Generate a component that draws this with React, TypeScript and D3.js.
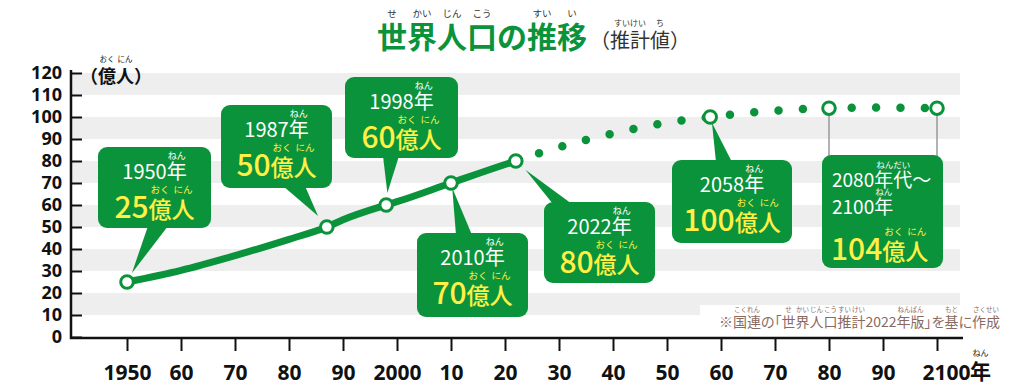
import { useEffect, useRef } from 'react';
import * as d3 from 'd3';

// population, 億人
const popYears = [1950, 1960, 1970, 1980, 1987, 1990, 1998, 2000, 2010, 2020, 2022];
const popValues = [25, 30.3, 37, 44.4, 50, 53.3, 60, 61.5, 70, 78.4, 80];
// projection (dotted)
const projYears = [2022, 2030, 2040, 2050, 2058, 2060, 2070, 2080, 2090, 2100];
const projValues = [80, 86.3, 92.5, 97.5, 100, 100.6, 102.9, 104, 104.3, 104];
// circles
const markerYears = [1950, 1987, 1998, 2010, 2022, 2058, 2080, 2100];
const markerValues = [25, 50, 60, 70, 80, 100, 104, 104];
// callouts
const calloutYears = [1950, 1987, 1998, 2010, 2022, 2058];
const calloutValues = [25, 50, 60, 70, 80, 100];
const lastRange = [2080, 2100];
const lastValue = 104;

const yTicks = [0, 10, 20, 30, 40, 50, 60, 70, 80, 90, 100, 110, 120];
const xTicks = [1950, 1960, 1970, 1980, 1990, 2000, 2010, 2020, 2030, 2040, 2050, 2060, 2070, 2080, 2090, 2100];

const titleSegs = [
  { t: '世', ruby: 'せ' }, { t: '界', ruby: 'かい' }, { t: '人', ruby: 'じん' },
  { t: '口', ruby: 'こう' }, { t: 'の' }, { t: '推', ruby: 'すい' }, { t: '移', ruby: 'い' },
];
const subSegs = [{ t: '（' }, { t: '推計', ruby: 'すいけい' }, { t: '値', ruby: 'ち' }, { t: '）' }];
const noteSegs = [
  { t: '※' }, { t: '国連', ruby: 'こくれん' }, { t: 'の「' },
  { t: '世', ruby: 'せ' }, { t: '界', ruby: 'かい' }, { t: '人', ruby: 'じん' }, { t: '口', ruby: 'こう' },
  { t: '推', ruby: 'すい' }, { t: '計', ruby: 'けい' }, { t: '2022' }, { t: '年版', ruby: 'ねんばん' },
  { t: '」を' }, { t: '基', ruby: 'もと' }, { t: 'に' }, { t: '作成', ruby: 'さくせい' },
];

// callout box layout (pixels)
const boxLayout = [
  { x: 98, y: 147, w: 113, h: 81, base: [148, 168], side: 'bottom', gap: 10 },
  { x: 221, y: 105, w: 111, h: 83, base: [283, 305], side: 'bottom', gap: 14 },
  { x: 345, y: 77, w: 113, h: 81, base: [383, 399], side: 'bottom', gap: 12 },
  { x: 417, y: 233, w: 111, h: 84, base: [456, 472], side: 'top', gap: 5 },
  { x: 544, y: 202, w: 111, h: 81, base: [553, 572], side: 'top', gap: 13 },
  { x: 672, y: 160, w: 120, h: 83, base: [716, 732], side: 'top', gap: 6 },
];
const lastBox = { x: 822, y: 155, w: 121, h: 113 };

const GREEN = '#0b933b';
const YELLOW = '#fff045';
const JP = "'Noto Sans CJK JP', sans-serif";
const NUM = "'Open Sans', 'DejaVu Sans', sans-serif";

type Seg = { t: string; ruby?: string; size?: number };

function rubyLine(parent: any, segs: Seg[], x: number, y: number, o: any) {
  const g = parent.append('g');
  const style = (t: any, s: Seg) =>
    t.attr('font-family', o.family || JP)
      .attr('font-size', s.size || o.size)
      .attr('font-weight', o.weight || 400)
      .style('font-feature-settings', o.palt ? '"palt"' : null);
  const widths = segs.map(s => {
    const t = style(g.append('text'), s).text(s.t);
    const w = (t.node() as SVGTextElement).getComputedTextLength();
    t.remove();
    return w;
  });
  const total = d3.sum(widths);
  let cx = o.anchor === 'middle' ? x - total / 2 : x;
  segs.forEach((s, i) => {
    style(g.append('text'), s).attr('x', cx).attr('y', y).attr('fill', o.fill).text(s.t);
    if (s.ruby) {
      g.append('text')
        .attr('x', cx + widths[i] / 2)
        .attr('y', y - o.rubyDy)
        .attr('text-anchor', 'middle')
        .attr('font-family', JP)
        .attr('font-size', o.rubySize)
        .attr('fill', o.rubyFill || o.fill)
        .text(s.ruby);
    }
    cx += widths[i];
  });
  return cx;
}

const App = () => {
  const ref = useRef<SVGSVGElement>(null);

  useEffect(() => {
    document.body.style.margin = '0';
    const svg = d3.select(ref.current);
    svg.selectAll('*').remove();

    const x = d3.scaleLinear().domain([1950, 2100]).range([127, 937]);
    const y = d3.scaleLinear().domain([0, 120]).range([337, 73]);

    // gray bands
    const bands = yTicks.filter((d, i) => i % 2 === 1);
    svg.append('g').selectAll('rect').data(bands).enter().append('rect')
      .attr('x', 71).attr('width', 960 - 71)
      .attr('y', d => y(d + 10)).attr('height', d => y(d) - y(d + 10))
      .attr('fill', '#eeeeee');

    // source note
    svg.append('rect').attr('x', 700).attr('y', 305).attr('width', 260).attr('height', 31).attr('fill', '#fff');
    rubyLine(svg, noteSegs, 719, 327, {
      size: 14, fill: '#8a6a5e', rubySize: 6.5, rubyDy: 15.5, palt: true,
    });

    // y axis
    const yAxis = svg.append('g').attr('transform', 'translate(71,0)')
      .call(d3.axisLeft(y).tickValues(yTicks).tickSizeInner(-11).tickSizeOuter(0).tickPadding(9));
    yAxis.select('.domain').remove();
    yAxis.selectAll('line').attr('stroke', '#111').attr('stroke-width', 2);
    yAxis.selectAll('text').attr('font-family', NUM).attr('font-weight', 700)
      .attr('font-size', 18).attr('fill', '#111');

    // x axis
    const xAxis = svg.append('g').attr('transform', 'translate(0,338)')
      .call(d3.axisBottom(x).tickValues(xTicks).tickSizeInner(13).tickSizeOuter(0).tickPadding(14)
        .tickFormat((d: any) => (d === 1950 || d % 100 === 0 ? String(d) : String(d % 100).padStart(2, '0'))));
    xAxis.select('.domain').remove();
    xAxis.selectAll('line').attr('stroke', '#111').attr('stroke-width', 2);
    xAxis.selectAll('text').attr('font-family', NUM).attr('font-weight', 700)
      .attr('font-size', 21).attr('fill', '#111');
    xAxis.selectAll('text').filter((d: any) => d === 2100).attr('dx', 9);
    rubyLine(svg, [{ t: '年', ruby: 'ねん' }], x(2100) + 33, 379, {
      size: 21, weight: 700, fill: '#111', rubySize: 8, rubyDy: 23,
    });

    // axis frame
    svg.append('path').attr('d', 'M963,338H71V70').attr('fill', 'none')
      .attr('stroke', '#111').attr('stroke-width', 2.5);

    // y unit
    rubyLine(svg, [{ t: '（' }, { t: '億', ruby: 'おく' }, { t: '人', ruby: 'にん' }, { t: '）' }], 80, 83, {
      size: 18, weight: 700, fill: '#111', rubySize: 7.5, rubyDy: 21,
    });

    // title
    const tEnd = rubyLine(svg, titleSegs, 377, 48, {
      size: 30, weight: 700, fill: GREEN, rubyFill: '#333', rubySize: 9.5, rubyDy: 31,
    });
    rubyLine(svg, subSegs, tEnd + 3, 48, {
      size: 20, fill: '#333', rubySize: 8, rubyDy: 22,
    });

    // lines
    const line = d3.line<number>().x((d, i) => x(d)).curve(d3.curveMonotoneX);
    svg.append('path')
      .attr('d', line.y((d, i) => y(popValues[i]))(popYears))
      .attr('fill', 'none').attr('stroke', GREEN).attr('stroke-width', 7).attr('stroke-linecap', 'round');
    svg.append('path')
      .attr('d', line.y((d, i) => y(projValues[i]))(projYears))
      .attr('fill', 'none').attr('stroke', GREEN).attr('stroke-width', 8.5)
      .attr('stroke-linecap', 'round').attr('stroke-dasharray', '0 24.4');

    // leader lines for last box
    svg.append('g').selectAll('line').data(lastRange).enter().append('line')
      .attr('x1', d => x(d)).attr('x2', d => x(d))
      .attr('y1', y(lastValue)).attr('y2', lastBox.y + 2)
      .attr('stroke', '#999').attr('stroke-width', 1.5);

    // callouts
    calloutYears.forEach((yr, i) => {
      const b = boxLayout[i];
      const g = svg.append('g');
      const px = x(yr), py = y(calloutValues[i]);
      const by = b.side === 'bottom' ? b.y + b.h - 2 : b.y + 2;
      const mx = (b.base[0] + b.base[1]) / 2;
      const dx = mx - px, dy = by - py;
      const len = Math.hypot(dx, dy);
      const tx = px + (dx / len) * b.gap, ty = py + (dy / len) * b.gap;
      g.append('polygon')
        .attr('points', `${b.base[0]},${by} ${b.base[1]},${by} ${tx},${ty}`)
        .attr('fill', GREEN);
      g.append('rect').attr('x', b.x).attr('y', b.y).attr('width', b.w).attr('height', b.h)
        .attr('rx', 9).attr('fill', GREEN);
      const cx = b.x + b.w / 2;
      rubyLine(g, [{ t: String(yr) }, { t: '年', ruby: 'ねん' }], cx, b.y + 32, {
        size: 20, fill: '#fff', rubySize: 9, rubyDy: 20, anchor: 'middle',
      });
      rubyLine(g, [{ t: String(calloutValues[i]), size: 30 }, { t: '億', ruby: 'おく' }, { t: '人', ruby: 'にん' }],
        cx, b.y + 71, { size: 23, weight: 500, fill: YELLOW, rubySize: 9.5, rubyDy: 25, anchor: 'middle' });
    });

    // last box
    const lg = svg.append('g');
    lg.append('rect').attr('x', lastBox.x).attr('y', lastBox.y).attr('width', lastBox.w).attr('height', lastBox.h)
      .attr('rx', 9).attr('fill', GREEN);
    const lx = lastBox.x + 10;
    rubyLine(lg, [{ t: String(lastRange[0]) }, { t: '年代', ruby: 'ねんだい' }, { t: '～' }], lx, lastBox.y + 32, {
      size: 19, fill: '#fff', rubySize: 8.5, rubyDy: 19,
    });
    rubyLine(lg, [{ t: String(lastRange[1]) }, { t: '年', ruby: 'ねん' }], lx, lastBox.y + 59, {
      size: 19, fill: '#fff', rubySize: 8.5, rubyDy: 19,
    });
    rubyLine(lg, [{ t: String(lastValue), size: 30 }, { t: '億', ruby: 'おく' }, { t: '人', ruby: 'にん' }],
      lx - 1, lastBox.y + 105, { size: 23, weight: 500, fill: YELLOW, rubySize: 9.5, rubyDy: 25 });

    // markers
    svg.append('g').selectAll('circle').data(markerYears).enter().append('circle')
      .attr('cx', d => x(d)).attr('cy', (d, i) => y(markerValues[i]))
      .attr('r', 6.3).attr('fill', '#fff').attr('stroke', GREEN).attr('stroke-width', 3);
  }, []);

  return (
    <svg ref={ref} width={1024} height={389}
      style={{ position: 'absolute', left: 0, top: 0, background: '#fff' }} />
  );
};

export default App;
